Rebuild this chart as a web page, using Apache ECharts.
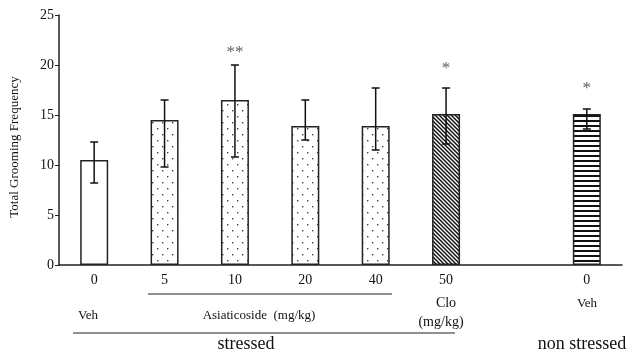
<!DOCTYPE html>
<html>
<head>
<meta charset="utf-8">
<script src="https://cdn.jsdelivr.net/npm/echarts@6/dist/echarts.min.js"></script>
<style>
  html, body { margin: 0; padding: 0; background: #fff; }
  #chart { width: 629px; height: 355px; }
</style>
</head>
<body>
<div id="chart"></div>
<script>
// data
var doses = ['0', '5', '10', '20', '40', '50', '', '0'];
var means = [10.5, 14.5, 16.5, 13.9, 13.9, 15.1, null, 15.1];
var errLow = [8.2, 9.8, 10.8, 12.5, 11.5, 12.1, null, 13.6];
var errHigh = [12.3, 16.5, 20.0, 16.5, 17.7, 17.7, null, 15.6];
var sigMarks = ['', '', '**', '', '', '*', '', '*'];
var sigY = [null, null, 21.2, null, null, 19.6, null, 17.6];
var yTicks = [0, 5, 10, 15, 20, 25];

var FONT = '"Liberation Serif", "DejaVu Serif", serif';

// fill patterns
function dotPattern() {
    var c = document.createElement('canvas');
    c.width = 10; c.height = 12;
    var g = c.getContext('2d');
    g.fillStyle = '#fff'; g.fillRect(0, 0, 10, 12);
    g.fillStyle = '#444';
    g.fillRect(2, 2, 1.4, 1.4);
    g.fillRect(7, 8, 1.4, 1.4);
    return c;
}
function diagPattern() {
    var c = document.createElement('canvas');
    c.width = 4; c.height = 4;
    var g = c.getContext('2d');
    g.fillStyle = '#fff'; g.fillRect(0, 0, 4, 4);
    g.strokeStyle = '#111'; g.lineWidth = 1.5;
    g.beginPath();
    g.moveTo(-1, -1); g.lineTo(5, 5);
    g.moveTo(-1, 3); g.lineTo(1, 5);
    g.moveTo(3, -1); g.lineTo(5, 1);
    g.stroke();
    return c;
}
function stripePattern() {
    var c = document.createElement('canvas');
    c.width = 4; c.height = 5;
    var g = c.getContext('2d');
    g.fillStyle = '#fff'; g.fillRect(0, 0, 4, 5);
    g.fillStyle = '#111'; g.fillRect(0, 0, 4, 2);
    return c;
}

var fills = ['#fff', 'dot', 'dot', 'dot', 'dot', 'diag', null, 'stripe'];
var pats = { dot: dotPattern(), diag: diagPattern(), stripe: stripePattern() };

var barData = means.map(function (v, i) {
    var f = fills[i];
    var color = f && pats[f] ? { image: pats[f], repeat: 'repeat' } : '#fff';
    return { value: v, itemStyle: { color: color } };
});

var errData = [];
var starData = [];
for (var i = 0; i < doses.length; i++) {
    if (errLow[i] != null) errData.push([i, errLow[i], errHigh[i]]);
    if (sigMarks[i]) starData.push({ value: [i, sigY[i]], mark: sigMarks[i] });
}

var myChart = echarts.init(document.getElementById('chart'));

var option = {
    animation: false,
    grid: { left: 58, top: 15, width: 564, height: 250, containLabel: false },
    xAxis: {
        type: 'category',
        data: doses,
        axisLine: { lineStyle: { color: '#222', width: 1.5 } },
        axisTick: { show: false },
        axisLabel: { color: '#111', fontFamily: FONT, fontSize: 14, margin: 8 }
    },
    yAxis: {
        type: 'value',
        min: 0, max: 25, interval: 5,
        name: 'Total Grooming Frequency',
        nameLocation: 'middle',
        nameGap: 38,
        nameTextStyle: { color: '#111', fontFamily: FONT, fontSize: 13, padding: [0, 14, 0, 0] },
        axisLine: { show: true, lineStyle: { color: '#222', width: 1.5 } },
        axisTick: { show: true, length: 4, lineStyle: { color: '#222' } },
        axisLabel: { color: '#111', fontFamily: FONT, fontSize: 14, margin: 5,
            formatter: function (v) { return yTicks.indexOf(v) >= 0 ? String(v) : ''; } },
        splitLine: { show: false }
    },
    series: [
        {
            type: 'bar',
            data: barData,
            barWidth: 28,
            itemStyle: { borderColor: '#222', borderWidth: 1.5 }
        },
        {
            type: 'custom',
            data: errData,
            z: 5,
            renderItem: function (params, api) {
                var x = api.value(0);
                var lo = api.coord([x, api.value(1)]);
                var hi = api.coord([x, api.value(2)]);
                var w = 4;
                var st = { stroke: '#111', lineWidth: 1.5 };
                return {
                    type: 'group',
                    children: [
                        { type: 'line', shape: { x1: lo[0], y1: lo[1], x2: hi[0], y2: hi[1] }, style: st },
                        { type: 'line', shape: { x1: hi[0] - w, y1: hi[1], x2: hi[0] + w, y2: hi[1] }, style: st },
                        { type: 'line', shape: { x1: lo[0] - w, y1: lo[1], x2: lo[0] + w, y2: lo[1] }, style: st }
                    ]
                };
            }
        },
        {
            type: 'scatter',
            data: starData,
            symbolSize: 0,
            label: {
                show: true,
                position: 'inside',
                color: '#333',
                fontFamily: FONT,
                fontSize: 17,
                formatter: function (p) { return p.data.mark; }
            }
        }
    ],
    graphic: [
        { type: 'line', shape: { x1: 148, y1: 294, x2: 392, y2: 294 }, style: { stroke: '#222', lineWidth: 1.2 } },
        { type: 'line', shape: { x1: 73, y1: 333, x2: 455, y2: 333 }, style: { stroke: '#222', lineWidth: 1.2 } },
        { type: 'text', x: 88, y: 316, style: { text: 'Veh', font: '13px ' + FONT, fill: '#111', textAlign: 'center', textVerticalAlign: 'middle' } },
        { type: 'text', x: 259, y: 316, style: { text: 'Asiaticoside  (mg/kg)', font: '13px ' + FONT, fill: '#111', textAlign: 'center', textVerticalAlign: 'middle' } },
        { type: 'text', x: 446, y: 303, style: { text: 'Clo', font: '14px ' + FONT, fill: '#111', textAlign: 'center', textVerticalAlign: 'middle' } },
        { type: 'text', x: 441, y: 322, style: { text: '(mg/kg)', font: '14px ' + FONT, fill: '#111', textAlign: 'center', textVerticalAlign: 'middle' } },
        { type: 'text', x: 587, y: 304, style: { text: 'Veh', font: '13px ' + FONT, fill: '#111', textAlign: 'center', textVerticalAlign: 'middle' } },
        { type: 'text', x: 246, y: 344, style: { text: 'stressed', font: '18px ' + FONT, fill: '#111', textAlign: 'center', textVerticalAlign: 'middle' } },
        { type: 'text', x: 582, y: 344, style: { text: 'non stressed', font: '18px ' + FONT, fill: '#111', textAlign: 'center', textVerticalAlign: 'middle' } }
    ]
};

myChart.setOption(option);
</script>
</body>
</html>
